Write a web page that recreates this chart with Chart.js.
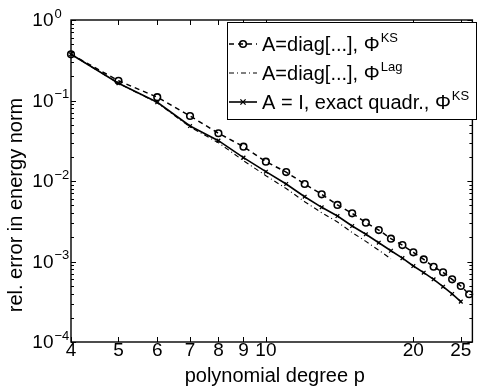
<!DOCTYPE html>
<html>
<head>
<meta charset="utf-8">
<script src="https://cdn.jsdelivr.net/npm/chart.js@4.4.1/dist/chart.umd.min.js"></script>
<style>
html,body{margin:0;padding:0;background:#fff;}
#wrap{width:478px;height:387px;position:relative;}
</style>
</head>
<body>
<div id="wrap"><canvas id="c" width="478" height="387"></canvas></div>
<script>
// ---- data ----
const degreesDiagKS = [4,5,6,7,8,9,10,11,12,13,14,15,16,17,18,19,20,21,22,23,24,25,26];
const errDiagKS = [0.375,0.176,0.110,0.0642,0.0392,0.0267,0.0174,0.0129,0.00918,0.00684,0.00504,0.00397,0.00304,0.00246,0.00192,0.00160,0.00130,0.00106,0.000861,0.000734,0.000601,0.000496,0.000392];

const degreesDiagLag = [4,5,6,7,8,9,10,11,12,13,14,15,16,17,18];
const errDiagLag = [0.375,0.1636,0.0936,0.0469,0.0299,0.0179,0.01164,0.00807,0.00553,0.00403,0.00310,0.00229,0.00178,0.00138,0.00108];

const degreesExactKS = [4,5,6,7,8,9,10,11,12,13,14,15,16,17,18,19,20,21,22,23,24,25];
const errExactKS = [0.375,0.1636,0.0950,0.0482,0.0317,0.0195,0.01305,0.00918,0.00638,0.00471,0.00367,0.00276,0.00218,0.00171,0.00136,0.00110,0.000879,0.000726,0.000601,0.000486,0.000395,0.000317];

const xTickValues = [4,5,6,7,8,9,10,20,25];
const xTickLabels = ['4','5','6','7','8','9','10','20','25'];
const yTickValues = [1,0.1,0.01,0.001,0.0001];
const yTickBase = '10';
const yTickExponents = ['0','\u22121','\u22122','\u22123','\u22124'];

const xAxisTitle = 'polynomial degree p';
const yAxisTitle = 'rel. error in energy norm';
const legendTexts = ['A=diag[...], \u03A6', 'A=diag[...], \u03A6', 'A = I, exact quadr., \u03A6'];
const legendSups = ['KS', 'Lag', 'KS'];

const FONT = '"Liberation Sans", Arial, Helvetica, sans-serif';

function pts(xs, ys){ return xs.map((x,i)=>({x:x, y:ys[i]})); }

const dsStyles = [
  {borderDash:[5,4], borderWidth:1.5, pointStyle:'circle', pointRadius:3.3, pointBorderWidth:1.6},
  {borderDash:[5,3,1,3], borderWidth:1.1, pointStyle:false, pointRadius:0, pointBorderWidth:0},
  {borderDash:[], borderWidth:1.6, pointStyle:'crossRot', pointRadius:2.6, pointBorderWidth:1.3}
];

function drawMarker(ctx, style, x, y){
  ctx.save();
  ctx.setLineDash([]);
  ctx.strokeStyle = '#000';
  if (style.pointStyle === 'circle') {
    ctx.lineWidth = style.pointBorderWidth;
    ctx.beginPath(); ctx.arc(x, y, style.pointRadius, 0, Math.PI*2); ctx.stroke();
  } else if (style.pointStyle === 'crossRot') {
    ctx.lineWidth = style.pointBorderWidth;
    const r = style.pointRadius;
    ctx.beginPath();
    ctx.moveTo(x-r, y-r); ctx.lineTo(x+r, y+r);
    ctx.moveTo(x-r, y+r); ctx.lineTo(x+r, y-r);
    ctx.stroke();
  }
  ctx.restore();
}

const matlabAxes = {
  id: 'matlabAxes',
  afterDraw(chart){
    const ctx = chart.ctx;
    const a = chart.chartArea;
    const xs = chart.scales.x, ys = chart.scales.y;
    ctx.save();
    ctx.strokeStyle = '#000';
    ctx.fillStyle = '#000';
    ctx.lineWidth = 1.4;
    ctx.setLineDash([]);
    // box
    ctx.strokeRect(a.left, a.top, a.right - a.left, a.bottom - a.top);
    // x ticks (inward, bottom & top)
    ctx.lineWidth = 1;
    ctx.beginPath();
    xTickValues.forEach(v => {
      const px = Math.round(xs.getPixelForValue(v)) + 0.5;
      ctx.moveTo(px, a.bottom); ctx.lineTo(px, a.bottom - 5);
      ctx.moveTo(px, a.top); ctx.lineTo(px, a.top + 5);
    });
    // y ticks, major and minor (inward, left & right)
    for (let e = -4; e <= 0; e++) {
      for (let k = 1; k <= 9; k++) {
        const v = k * Math.pow(10, e);
        if (v > 1.0000001) break;
        const py = Math.round(ys.getPixelForValue(v)) + 0.5;
        const len = k === 1 ? 5 : 3;
        ctx.moveTo(a.left, py); ctx.lineTo(a.left + len, py);
        ctx.moveTo(a.right, py); ctx.lineTo(a.right - len, py);
      }
    }
    ctx.stroke();

    // x tick labels
    ctx.font = '19px ' + FONT;
    ctx.textAlign = 'center';
    ctx.textBaseline = 'alphabetic';
    xTickValues.forEach((v, i) => {
      ctx.fillText(xTickLabels[i], xs.getPixelForValue(v), a.bottom + 14);
    });
    // y tick labels
    yTickValues.forEach((v, i) => {
      const py = ys.getPixelForValue(v);
      ctx.font = '19px ' + FONT;
      ctx.textAlign = 'right';
      ctx.textBaseline = 'middle';
      ctx.fillText(yTickBase, 53.5, py + 1);
      ctx.font = '13px ' + FONT;
      ctx.textAlign = 'left';
      ctx.fillText(yTickExponents[i], 54.5, py - 6);
    });
    // axis titles
    ctx.font = '20px ' + FONT;
    ctx.textAlign = 'center';
    ctx.textBaseline = 'alphabetic';
    ctx.fillText(xAxisTitle, (a.left + a.right) / 2 + 3, 382);
    ctx.save();
    ctx.translate(16, 205);
    ctx.rotate(-Math.PI / 2);
    ctx.font = '20px ' + FONT;
    ctx.textBaseline = 'middle';
    ctx.fillText(yAxisTitle, 0, 0);
    ctx.restore();

    // legend
    const lx0 = 227.5, lx1 = 476.5, ly0 = 22.5, ly1 = 119.5;
    ctx.fillStyle = '#fff';
    ctx.fillRect(lx0, ly0, lx1 - lx0, ly1 - ly0);
    ctx.strokeStyle = '#000';
    ctx.lineWidth = 1;
    ctx.strokeRect(lx0, ly0, lx1 - lx0, ly1 - ly0);
    const rows = [44, 73, 102];
    chart.data.datasets.forEach((ds, i) => {
      const st = dsStyles[i];
      const cy = rows[i];
      ctx.save();
      ctx.strokeStyle = '#000';
      ctx.lineWidth = st.borderWidth;
      ctx.setLineDash(st.borderDash);
      ctx.beginPath(); ctx.moveTo(229, cy); ctx.lineTo(257, cy); ctx.stroke();
      ctx.restore();
      drawMarker(ctx, st, 243, cy);
      ctx.fillStyle = '#000';
      ctx.font = '20px ' + FONT;
      ctx.textAlign = 'left';
      ctx.textBaseline = 'alphabetic';
      ctx.fillText(legendTexts[i], 262, cy + 7);
      const w = ctx.measureText(legendTexts[i]).width;
      ctx.font = '13px ' + FONT;
      ctx.fillText(legendSups[i], 262 + w + 1, cy - 2);
    });
    ctx.restore();
  }
};

const datasets = [
  {label: legendTexts[0] + legendSups[0], data: pts(degreesDiagKS, errDiagKS)},
  {label: legendTexts[1] + legendSups[1], data: pts(degreesDiagLag, errDiagLag)},
  {label: legendTexts[2] + legendSups[2], data: pts(degreesExactKS, errExactKS)}
].map((d, i) => Object.assign(d, {
  borderColor: '#000',
  backgroundColor: 'rgba(0,0,0,0)',
  pointBackgroundColor: 'rgba(0,0,0,0)',
  pointBorderColor: '#000',
  borderDash: dsStyles[i].borderDash,
  borderWidth: dsStyles[i].borderWidth,
  pointStyle: dsStyles[i].pointStyle,
  pointRadius: dsStyles[i].pointRadius,
  pointBorderWidth: dsStyles[i].pointBorderWidth,
  tension: 0,
  fill: false,
  clip: false
}));

new Chart(document.getElementById('c'), {
  type: 'line',
  data: {datasets: datasets},
  options: {
    responsive: false,
    animation: false,
    events: [],
    layout: {padding: {left: 0, right: 1, top: 20, bottom: 0}},
    plugins: {legend: {display: false}, tooltip: {enabled: false}, title: {display: false}},
    scales: {
      x: {
        type: 'logarithmic', min: 4, max: 26.4,
        ticks: {display: false},
        grid: {display: false},
        border: {display: false},
        afterFit(s){ s.height = 45; }
      },
      y: {
        type: 'logarithmic', min: 0.0001, max: 1,
        ticks: {display: false},
        grid: {display: false},
        border: {display: false},
        afterFit(s){ s.width = 71; }
      }
    }
  },
  plugins: [matlabAxes]
});
</script>
</body>
</html>
